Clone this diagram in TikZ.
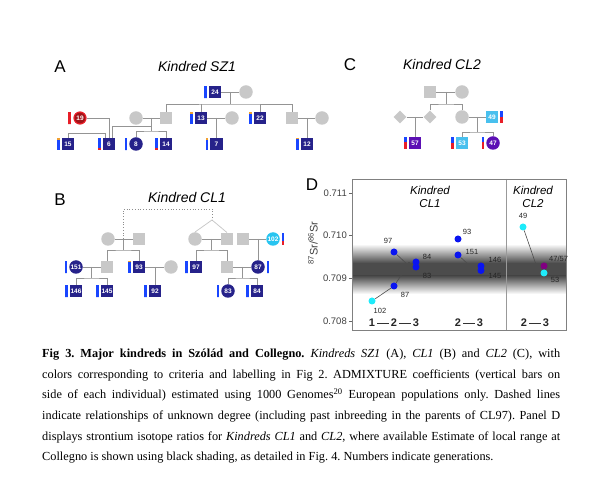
\documentclass[tikz,border=0pt]{standalone}
\usepackage{fontspec}
\setmainfont{Liberation Serif}
\setsansfont{Liberation Sans}
\usepackage{tikz}
\usetikzlibrary{calc,shapes.geometric}

\definecolor{navy}{RGB}{38,34,138}
\definecolor{admblue}{RGB}{25,70,255}
\definecolor{admred}{RGB}{232,30,40}
\definecolor{admorange}{RGB}{240,160,50}
\definecolor{unkgray}{RGB}{200,200,200}
\definecolor{kinred}{RGB}{160,20,25}
\definecolor{skyblue}{RGB}{40,196,240}
\definecolor{lightsky}{RGB}{72,192,238}
\definecolor{kinviolet}{RGB}{92,16,180}
\definecolor{ptblue}{RGB}{10,20,240}
\definecolor{ptcyan}{RGB}{30,235,250}
\definecolor{ptpurple}{RGB}{128,0,128}

% admixture bar beside an individual: node, x offset, top colour, top length, bottom colour
\newcommand{\admix}[5]{%
  \fill[#3] ($(#1)+(#2-1.25,-6.25)$) rectangle ($(#1)+(#2+1.25,-6.25+#4)$);
  \fill[#5] ($(#1)+(#2-1.25,-6.25+#4)$) rectangle ($(#1)+(#2+1.25,6.25)$);
}

\begin{document}
\begin{tikzpicture}[x=1pt,y=-1pt,
    ind/.style={inner sep=0pt, text=white, font=\sffamily\bfseries\fontsize{6.5}{6.5}\selectfont},
    male/.style={ind, rectangle, minimum size=12.5pt, fill=navy},
    female/.style={ind, circle, minimum size=13.5pt, fill=navy},
    umale/.style={ind, rectangle, minimum size=12.5pt, fill=unkgray},
    ufemale/.style={ind, circle, minimum size=13.5pt, fill=unkgray},
    udiamond/.style={ind, diamond, minimum size=13pt, fill=unkgray},
    kin/.style={draw=black!42, line width=0.75pt},
    twin/.style={draw=black!22, line width=0.75pt},
    unknown/.style={draw=black!45, line width=0.75pt, dotted},
    panel/.style={font=\sffamily\fontsize{17}{17}\selectfont},
    kindred/.style={font=\sffamily\itshape\fontsize{14}{14}\selectfont},
    srpoint/.style={circle, inner sep=0pt, minimum size=7pt},
    ptlabel/.style={font=\sffamily\fontsize{7.5}{7.5}\selectfont, text=black!85, inner sep=0pt},
    trend/.style={draw=black!70, line width=0.6pt},
    gen/.style={font=\sffamily\bfseries\fontsize{11}{11}\selectfont, text=black!85, inner sep=0pt},
    tick/.style={font=\sffamily\fontsize{9.5}{9.5}\selectfont, text=black!75, inner sep=0pt}
  ]
  \useasboundingbox (0,0) rectangle (600,502);

  % Panel A: Kindred SZ1
  \node[panel] (la) at (60,67) {A};
  \node[kindred] (ta) at (197,67) {Kindred SZ1};

  \node[male] (a24) at (215,92) {24};
  \node[ufemale] (a24w) at (246,92) {};
  \node[ufemale] (a1w) at (136,118) {};
  \node[umale] (a1) at (166,118) {};
  \node[male] (a13) at (201,118) {13};
  \node[ufemale] (a13w) at (232,118) {};
  \node[male] (a22) at (260,118) {22};
  \node[umale] (a2) at (292,118) {};
  \node[ufemale] (a2w) at (322,118) {};
  \node[ind, circle, minimum size=12pt, fill=kinred, draw=admred, line width=1.2pt] (a19) at (80,118) {19};
  \node[male] (a15) at (68,144) {15};
  \node[male] (a6) at (109,144) {6};
  \node[female] (a8) at (136,144) {8};
  \node[male] (a14) at (166,144) {14};
  \node[male] (a7) at (216.5,144) {7};
  \node[male] (a12) at (307,144) {12};

  \draw[kin] (a24) -- (a24w);
  \coordinate (sA1) at (230.5,104);
  \draw[kin] ($(a24)!.5!(a24w)$) -- (sA1);
  \draw[kin] (a1) |- (sA1) -| (a2);
  \draw[kin] (a13) -- (a13 |- sA1);
  \draw[kin] (a22) -- (a22 |- sA1);
  \draw[kin] (a13) -- (a13w);
  \draw[kin] ($(a13)!.5!(a13w)$) -- (a7);
  \draw[kin] (a2) -- (a2w);
  \draw[kin] ($(a2)!.5!(a2w)$) -- (a12);
  \draw[kin] (a1w) -- (a1);
  \coordinate (sA2) at (151,131);
  \draw[kin] ($(a1w)!.5!(a1)$) -- (sA2);
  \draw[kin] (a8) |- (sA2) -| (a14);
  \coordinate (jA1) at (151,126);
  \draw[kin] (jA1) -| ([xshift=3.5pt]a6.north);
  \draw[kin] (a19) -| (a6.north);
  \coordinate (jA2) at (105.5,133);
  \draw[kin] (a15) |- (jA2) -- ([xshift=-3.5pt]a6.north);

  % Panel B: Kindred CL1
  \node[panel] (lb) at (60,200) {B};
  \node[kindred] (tb) at (187,198) {Kindred CL1};

  \node[ufemale] (b1w) at (108,239) {};
  \node[umale] (b1) at (139,239) {};
  \node[ufemale] (b2w) at (195,239) {};
  \node[umale] (b2) at (227,239) {};
  \node[umale] (b3) at (243,239) {};
  \node[ind, circle, minimum size=13.5pt, fill=skyblue] (b102) at (273,239) {102};
  \node[female] (b151) at (76,267) {151};
  \node[umale] (b4) at (107,267) {};
  \node[male] (b93) at (139,267) {93};
  \node[ufemale] (b93w) at (171,267) {};
  \node[male] (b97) at (196,267) {97};
  \node[umale] (b5) at (227,267) {};
  \node[female] (b87) at (258,267) {87};
  \node[male] (b146) at (76,291) {146};
  \node[male] (b145) at (107,291) {145};
  \node[male] (b92) at (155,291) {92};
  \node[female] (b83) at (228,291) {83};
  \node[male] (b84) at (257,291) {84};

  \coordinate (bmid) at ($(b1w)!.5!(b1)$);
  \coordinate (bapex) at (212,220);
  \draw[unknown] (bmid) |- (bapex |- 0,209) -- (bapex);
  \draw[twin] (bapex) -- (b2w.north);
  \draw[twin] (bapex) -- (b2.north);
  \draw[kin] (b1w) -- (b1);
  \coordinate (sB1) at (123.5,250);
  \draw[kin] (bmid) -- (sB1);
  \draw[kin] (b4) |- (sB1) -| (b93);
  \draw[kin] (b2w) -- (b2);
  \coordinate (sB2) at (211,250);
  \draw[kin] ($(b2w)!.5!(b2)$) -- (sB2);
  \draw[kin] (b97) |- (sB2) -| (b5);
  \draw[kin] (b3) -- (b102);
  \draw[kin] ($(b3)!.5!(b102)$) -- (b87);
  \draw[kin] (b151) -- (b4);
  \coordinate (sB3) at (91.5,278);
  \draw[kin] ($(b151)!.5!(b4)$) -- (sB3);
  \draw[kin] (b146) |- (sB3) -| (b145);
  \draw[kin] (b93) -- (b93w);
  \draw[kin] ($(b93)!.5!(b93w)$) -- (b92);
  \draw[kin] (b5) -- (b87);
  \coordinate (sB4) at (242.5,278);
  \draw[kin] ($(b5)!.5!(b87)$) -- (sB4);
  \draw[kin] (b83) |- (sB4) -| (b84);

  % Panel C: Kindred CL2
  \node[panel] (lc) at (350,65) {C};
  \node[kindred] (tc) at (442,65) {Kindred CL2};

  \node[umale] (c1) at (430,92) {};
  \node[ufemale] (c1w) at (462,92) {};
  \node[udiamond] (c2w) at (400,117) {};
  \node[udiamond] (c2) at (430,117) {};
  \node[ufemale] (c3) at (462,117) {};
  \node[male, fill=lightsky] (c49) at (492,117) {49};
  \node[male, fill=kinviolet] (c57) at (415,143) {57};
  \node[male, fill=lightsky] (c53) at (462,143) {53};
  \node[female, fill=kinviolet] (c47) at (493,143) {47};

  \draw[kin] (c1) -- (c1w);
  \coordinate (sC1) at (446,104);
  \draw[kin] ($(c1)!.5!(c1w)$) -- (sC1);
  \draw[kin] (c2) |- (sC1) -| (c3);
  \draw[kin] (c2w) -- (c2);
  \draw[kin] ($(c2w)!.5!(c2)$) -- (c57);
  \draw[kin] (c3) -- (c49);
  \coordinate (sC2) at (477,132);
  \draw[kin] ($(c3)!.5!(c49)$) -- (sC2);
  \draw[kin] (c53) |- (sC2) -| (c47);

  % ADMIXTURE bars
  \foreach \n/\d/\a/\l/\b in {a24/-9.5/admblue/12.5/admblue, a13/-9.5/admorange/2/admblue,
      a22/-9.5/admorange/2/admblue, a19/-10.5/admred/12.5/admred, a15/-9.5/admorange/2/admblue,
      a6/-9.5/admblue/10.5/admred, a8/-10/admblue/12.5/admblue, a14/-9.5/admblue/10.5/admred,
      a7/-9.5/admorange/2/admblue, a12/-9.5/admorange/1.5/admblue,
      b151/-10/admblue/12.5/admblue, b146/-9.5/admblue/12.5/admblue, b145/-9.5/admblue/12.5/admblue,
      b93/-9.5/admorange/1.5/admblue, b92/-9.5/admblue/12.5/admblue, b97/-9.5/admblue/12.5/admblue,
      b87/10/admblue/12.5/admblue, b83/-10/admblue/12.5/admblue, b84/-9.5/admblue/12.5/admblue,
      b102/10/admblue/8/admred,
      c57/-9.5/admblue/5/admred, c49/9.5/admblue/6.5/admred, c53/-9.5/admblue/6/admred,
      c47/-10/admblue/5/admred}
    \admix{\n}{\d}{\a}{\l}{\b};

  % Panel D: strontium isotope ratios
  \node[panel] (ld) at (312,185) {D};
  \shade[top color=white, bottom color=black!70] (352,244) rectangle (566,263);
  \fill[black!70] (352,263) rectangle (566,276);
  \shade[top color=black!70, bottom color=white] (352,276) rectangle (566,294);
  \draw[black!40, line width=0.6pt] (506,179) -- (506,330);
  \draw[black!50, line width=0.7pt] (352,179) rectangle (566,330);

  \foreach \y/\t [count=\i] in {193/0.711, 235.7/0.710, 278.3/0.709, 321/0.708} {
    \draw[black!60] (349,\y) -- (352,\y);
    \node[tick, anchor=east] (tick\i) at (347,\y) {\t};
  }
  \node[rotate=90, font=\sffamily\fontsize{11}{11}\selectfont, text=black!75] (ytitle) at (313,243)
    {\textsuperscript{87}Sr/\textsuperscript{86}Sr};

  \node[kindred, font=\sffamily\itshape\fontsize{11.5}{12.5}\selectfont, align=center] (kcl1) at (430,197) {Kindred\\CL1};
  \node[kindred, font=\sffamily\itshape\fontsize{11.5}{12.5}\selectfont, align=center] (kcl2) at (533,197) {Kindred\\CL2};

  % Data points
  \foreach \n/\x/\y/\c in {97/394/252/ptblue, 87/394/286/ptblue, 102/372/301/ptcyan,
      84/416/262/ptblue, 83/416/267/ptblue, 93/458/239/ptblue, 151/458/255/ptblue,
      146/481/266/ptblue, 145/481/270.5/ptblue, 49/523/227/ptcyan, 4757/544/266/ptpurple, 53/544/273/ptcyan}
    \node[srpoint, fill=\c] (p\n) at (\x,\y) {};

  % Point labels
  \foreach \n/\x/\y in {97/388/241, 87/405/295, 102/380/311, 84/427/257, 83/427/276,
      93/467/232, 151/472/252, 146/495/260, 145/495/276, 49/523/216, 53/555/280}
    \node[ptlabel] (l\n) at (\x,\y) {\n};
  \node[ptlabel, anchor=west] (l4757) at (549,259) {47/57};

  % Trends towards generation 3
  \coordinate (k1) at (408,265);
  \coordinate (k2) at (474,269.5);
  \coordinate (k3) at (537,267.5);
  \draw[trend] (410,262.5) -- (408,262.5) -- (408,268) -- (410,268);
  \draw[trend] (476,267) -- (474,267) -- (474,272) -- (476,272);
  \draw[trend] (539,265) -- (537,265) -- (537,270) -- (539,270);
  \draw[trend] (p97) -- (k1);
  \draw[trend] (p102) -- (p87) -- (k1);
  \draw[trend] (p151) -- (k2);
  \draw[trend] (p49) -- (k3);

  % Generations
  \foreach \n/\x/\t in {g1/372/1, g2/394/2, g3/416/3, g4/458/2, g5/480/3, g6/524/2, g7/546/3}
    \node[gen] (\n) at (\x,323) {\t};
  \draw[black!80, line width=0.6pt, shorten <=2pt, shorten >=2pt] (g1) -- (g2);
  \draw[black!80, line width=0.6pt, shorten <=2pt, shorten >=2pt] (g2) -- (g3);
  \draw[black!80, line width=0.6pt, shorten <=2pt, shorten >=2pt] (g4) -- (g5);
  \draw[black!80, line width=0.6pt, shorten <=2pt, shorten >=2pt] (g6) -- (g7);

  % Caption
  \node[anchor=north west, text width=518pt, align=justify, inner sep=0pt,
      font=\frenchspacing\fontsize{12.3}{20.6}\selectfont] (caption) at (42,349)
    {\textbf{Fig 3. Major kindreds in Szólád and Collegno.} \textit{Kindreds SZ1} (A), \textit{CL1} (B) and \textit{CL2} (C), with\linebreak
     colors corresponding to criteria and labelling in Fig 2. ADMIXTURE coefficients (vertical bars on\linebreak
     side of each individual) estimated using 1000 Genomes\textsuperscript{20} European populations only. Dashed lines\linebreak
     indicate relationships of unknown degree (including past inbreeding in the parents of CL97). Panel D\linebreak
     displays strontium isotope ratios for \textit{Kindreds CL1} and \textit{CL2}, where available Estimate of local range at\linebreak
     Collegno is shown using black shading, as detailed in Fig. 4. Numbers indicate generations.};
\end{tikzpicture}
\end{document}
